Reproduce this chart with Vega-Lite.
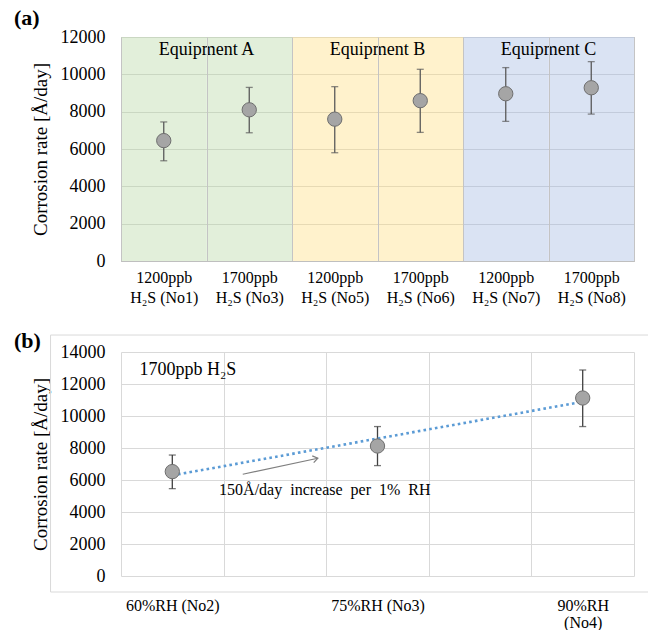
{
  "$schema": "https://vega.github.io/schema/vega-lite/v6.json",
  "padding": {"left": 13, "top": 6, "right": 0, "bottom": 0},
  "background": "white",
  "config": {
    "font": "Liberation Serif",
    "view": {"stroke": null},
    "axis": {"labelFont": "Liberation Serif", "labelColor": "#000", "titleFont": "Liberation Serif", "titleColor": "#000", "titleFontWeight": "normal", "ticks": false, "gridColor": "#d9d9d9", "gridWidth": 1},
    "axisY": {"labelFontSize": 18, "labelPadding": 16, "titleFontSize": 19, "titlePadding": 10, "domain": false, "grid": true, "format": "d", "labelOverlap": false},
    "title": {"font": "Liberation Serif", "fontWeight": "bold", "fontSize": 22, "anchor": "start", "frame": "group", "color": "#000", "offset": 0}
  },
  "datasets": {
    "a": [
      {"cat": "1200ppb|H₂S (No1)", "equip": "A", "val": 6450, "lo": 5370, "hi": 7450},
      {"cat": "1700ppb|H₂S (No3)", "equip": "A", "val": 8100, "lo": 6870, "hi": 9300},
      {"cat": "1200ppb|H₂S (No5)", "equip": "B", "val": 7600, "lo": 5800, "hi": 9340},
      {"cat": "1700ppb|H₂S (No6)", "equip": "B", "val": 8590, "lo": 6890, "hi": 10270},
      {"cat": "1200ppb|H₂S (No7)", "equip": "C", "val": 8960, "lo": 7480, "hi": 10360},
      {"cat": "1700ppb|H₂S (No8)", "equip": "C", "val": 9280, "lo": 7870, "hi": 10680}
    ],
    "b": [
      {"rh": 60, "val": 6525, "lo": 5460, "hi": 7560},
      {"rh": 75, "val": 8125, "lo": 6900, "hi": 9340},
      {"rh": 90, "val": 11125, "lo": 9340, "hi": 12875}
    ],
    "trend": [
      {"rh": 60, "val": 6290},
      {"rh": 90, "val": 10890}
    ]
  },
  "spacing": 91,
  "bounds": "flush",
  "vconcat": [
    {
      "width": 513,
      "height": 224,
      "title": {"text": "(a)", "dx": -107, "dy": 6},
      "view": {"stroke": "#b4b4b4"},
      "data": {"name": "a"},
      "encoding": {
        "x": {
          "field": "cat", "type": "nominal", "title": null,
          "scale": {"domain": ["1200ppb|H₂S (No1)", "1700ppb|H₂S (No3)", "1200ppb|H₂S (No5)", "1700ppb|H₂S (No6)", "1200ppb|H₂S (No7)", "1700ppb|H₂S (No8)"], "paddingInner": 0, "paddingOuter": 0},
          "axis": {"tickBand": "extent", "grid": true, "gridColor": "#c4c4c4", "domain": true, "domainColor": "#bfbfbf", "labelAngle": 0, "labelFontSize": 16, "labelPadding": 8, "labelLineHeight": 20, "labelExpr": "datum.value ? split(datum.value, '|') : ''"}
        }
      },
      "layer": [
        {
          "mark": {"type": "rect", "opacity": 0.6},
          "encoding": {
            "y": {"datum": 0, "type": "quantitative", "scale": {"domain": [0, 12000], "nice": false}, "title": "Corrosion rate [Å/day]", "axis": {"values": [0, 2000, 4000, 6000, 8000, 10000, 12000], "gridColor": "#c4c4c4"}},
            "y2": {"datum": 12000},
            "fill": {"field": "equip", "type": "nominal", "scale": {"domain": ["A", "B", "C"], "range": ["#cfe4c1", "#ffe9aa", "#c1d0eb"]}, "legend": null}
          }
        },
        {
          "mark": {"type": "rule", "color": "#5a5a5a", "strokeWidth": 1.3},
          "encoding": {"y": {"field": "lo", "type": "quantitative", "title": "Corrosion rate [Å/day]", "axis": {"values": [0, 2000, 4000, 6000, 8000, 10000, 12000], "gridColor": "#c4c4c4"}}, "y2": {"field": "hi"}}
        },
        {
          "mark": {"type": "tick", "orient": "horizontal", "size": 7, "thickness": 1.3, "color": "#5a5a5a"},
          "encoding": {"y": {"field": "lo", "type": "quantitative", "title": "Corrosion rate [Å/day]", "axis": {"values": [0, 2000, 4000, 6000, 8000, 10000, 12000], "gridColor": "#c4c4c4"}}}
        },
        {
          "mark": {"type": "tick", "orient": "horizontal", "size": 7, "thickness": 1.3, "color": "#5a5a5a"},
          "encoding": {"y": {"field": "hi", "type": "quantitative", "title": "Corrosion rate [Å/day]", "axis": {"values": [0, 2000, 4000, 6000, 8000, 10000, 12000], "gridColor": "#c4c4c4"}}}
        },
        {
          "mark": {"type": "point", "filled": true, "size": 205, "fill": "#a5a5a5", "stroke": "#6e6e6e", "strokeWidth": 1, "opacity": 1},
          "encoding": {"y": {"field": "val", "type": "quantitative", "title": "Corrosion rate [Å/day]", "axis": {"values": [0, 2000, 4000, 6000, 8000, 10000, 12000], "gridColor": "#c4c4c4"}}}
        },
        {
          "data": {"values": [
            {"label": "Equipment A", "cat": "1200ppb|H₂S (No1)"},
            {"label": "Equipment B", "cat": "1200ppb|H₂S (No5)"},
            {"label": "Equipment C", "cat": "1200ppb|H₂S (No7)"}
          ]},
          "mark": {"type": "text", "fontSize": 18, "font": "Liberation Serif", "baseline": "middle", "align": "center", "color": "#000"},
          "encoding": {
            "x": {"field": "cat", "type": "nominal", "bandPosition": 1},
            "y": {"datum": 11300, "type": "quantitative", "title": "Corrosion rate [Å/day]", "axis": {"values": [0, 2000, 4000, 6000, 8000, 10000, 12000], "gridColor": "#c4c4c4"}},
            "text": {"field": "label"}
          }
        }
      ]
    },
    {
      "width": 513,
      "height": 224,
      "title": {"text": "(b)", "dx": -107, "dy": 22},
      "data": {"name": "b"},
      "encoding": {
        "x": {
          "field": "rh", "type": "quantitative", "title": null,
          "scale": {"domain": [56.25, 93.75], "nice": false, "zero": false},
          "axis": {
            "values": [56.25, 60, 63.75, 71.25, 75, 78.75, 86.25, 90, 93.75],
            "grid": true,
            "gridOpacity": {"condition": {"test": "datum.value == 60 || datum.value == 75 || datum.value == 90", "value": 0}, "value": 1},
            "domain": false,
            "labelFontSize": 16, "labelPadding": 21, "labelLineHeight": 17, "labelOverlap": false, "labelFlush": false, "labelAngle": 0,
            "labelExpr": "datum.value == 60 ? '60%RH (No2)' : datum.value == 75 ? '75%RH (No3)' : datum.value == 90 ? ['90%RH', '(No4)'] : ''"
          }
        }
      },
      "layer": [
        {
          "data": {"values": [{"rh": 51.1, "rh2": 94.9}]},
          "mark": {"type": "rect", "fill": "white", "fillOpacity": 0, "stroke": "#d9d9d9", "strokeWidth": 1, "clip": false},
          "encoding": {
            "x2": {"field": "rh2"},
            "y": {"datum": 15060, "type": "quantitative", "title": "Corrosion rate [Å/day]", "axis": {"values": [0, 2000, 4000, 6000, 8000, 10000, 12000, 14000]}},
            "y2": {"datum": -1000}
          }
        },
        {
          "mark": {"type": "rule", "color": "#404040", "strokeWidth": 1.3},
          "encoding": {
            "y": {"field": "lo", "type": "quantitative", "title": "Corrosion rate [Å/day]", "scale": {"domain": [0, 14000], "nice": false}, "axis": {"values": [0, 2000, 4000, 6000, 8000, 10000, 12000, 14000]}},
            "y2": {"field": "hi"}
          }
        },
        {
          "mark": {"type": "tick", "orient": "horizontal", "size": 7, "thickness": 1.3, "color": "#404040"},
          "encoding": {"y": {"field": "lo", "type": "quantitative", "title": "Corrosion rate [Å/day]", "axis": {"values": [0, 2000, 4000, 6000, 8000, 10000, 12000, 14000]}}}
        },
        {
          "mark": {"type": "tick", "orient": "horizontal", "size": 7, "thickness": 1.3, "color": "#404040"},
          "encoding": {"y": {"field": "hi", "type": "quantitative", "title": "Corrosion rate [Å/day]", "axis": {"values": [0, 2000, 4000, 6000, 8000, 10000, 12000, 14000]}}}
        },
        {
          "data": {"name": "trend"},
          "mark": {"type": "line", "color": "#5b9bd5", "strokeWidth": 2.6, "strokeDash": [2.6, 3.2]},
          "encoding": {"y": {"field": "val", "type": "quantitative", "title": "Corrosion rate [Å/day]", "axis": {"values": [0, 2000, 4000, 6000, 8000, 10000, 12000, 14000]}}}
        },
        {
          "mark": {"type": "point", "filled": true, "size": 205, "fill": "#a5a5a5", "stroke": "#6e6e6e", "strokeWidth": 1, "opacity": 1},
          "encoding": {"y": {"field": "val", "type": "quantitative", "title": "Corrosion rate [Å/day]", "axis": {"values": [0, 2000, 4000, 6000, 8000, 10000, 12000, 14000]}}}
        },
        {
          "data": {"values": [{"label": "1700ppb H₂S", "rh": 57.6}]},
          "mark": {"type": "text", "fontSize": 18, "font": "Liberation Serif", "align": "left", "baseline": "middle", "color": "#000"},
          "encoding": {"y": {"datum": 12875, "type": "quantitative", "title": "Corrosion rate [Å/day]", "axis": {"values": [0, 2000, 4000, 6000, 8000, 10000, 12000, 14000]}}, "text": {"field": "label"}}
        },
        {
          "data": {"values": [{"label": "150Å/day\u00a0 increase\u00a0 per\u00a0 1%\u00a0 RH", "rh": 71.15}]},
          "mark": {"type": "text", "fontSize": 16, "font": "Liberation Serif", "align": "center", "baseline": "middle", "color": "#000"},
          "encoding": {"y": {"datum": 5356, "type": "quantitative", "title": "Corrosion rate [Å/day]", "axis": {"values": [0, 2000, 4000, 6000, 8000, 10000, 12000, 14000]}}, "text": {"field": "label"}}
        },
        {
          "data": {"values": [{"rh": 65.15, "rh2": 70.64}]},
          "mark": {"type": "rule", "color": "#7f7f7f", "strokeWidth": 1.2},
          "encoding": {"x2": {"field": "rh2"}, "y": {"datum": 6360, "type": "quantitative", "title": "Corrosion rate [Å/day]", "axis": {"values": [0, 2000, 4000, 6000, 8000, 10000, 12000, 14000]}}, "y2": {"datum": 7360}}
        },
        {
          "data": {"values": [{"rh": 70.64}]},
          "mark": {"type": "point", "shape": "M-1,-0.7L0,0L-1,0.7", "filled": false, "stroke": "#7f7f7f", "strokeWidth": 1.2, "size": 100, "angle": 348, "opacity": 1},
          "encoding": {"y": {"datum": 7360, "type": "quantitative", "title": "Corrosion rate [Å/day]", "axis": {"values": [0, 2000, 4000, 6000, 8000, 10000, 12000, 14000]}}}
        }
      ]
    }
  ]
}
